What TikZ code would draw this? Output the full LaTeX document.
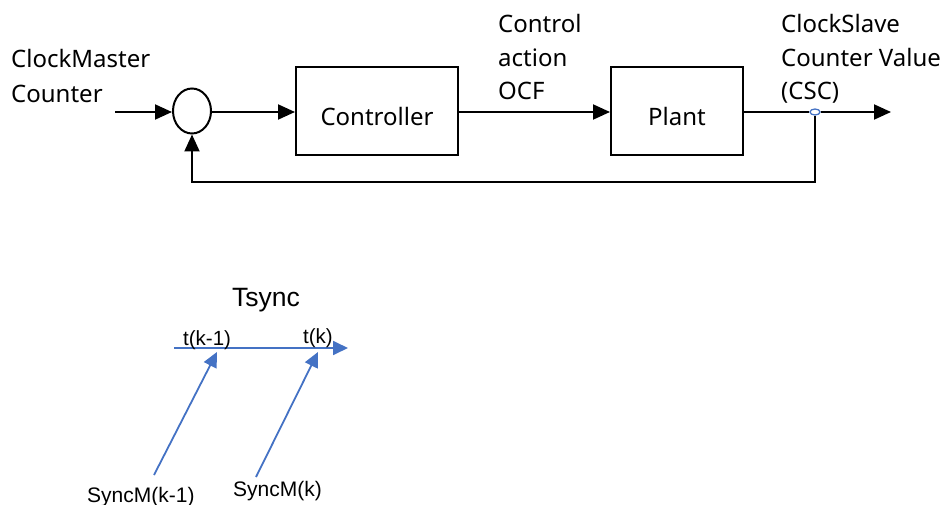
\documentclass[tikz,border=0pt]{standalone}
\usepackage{fontspec}
\setmainfont{Noto Sans}
\newfontfamily\arialf{Liberation Sans}
\usetikzlibrary{arrows.meta,shapes.geometric}
\definecolor{lblue}{HTML}{4472C4}
\begin{document}
\begin{tikzpicture}[x=1pt,y=-1pt,
  blk/.style={draw,line width=2pt,minimum height=88pt,inner sep=0pt,font=\fontsize{24}{28}\selectfont},
  sig/.style={line width=2pt,-{Triangle[length=17pt,width=15pt]}},
  bsig/.style={line width=1.8pt,lblue,-{Triangle[length=15pt,width=14pt]}},
  lbl/.style={inner sep=0pt,anchor=base west,font=\fontsize{24}{28}\selectfont},
  albl/.style={inner sep=0pt,anchor=base west,font=\arialf\fontsize{21}{24}\selectfont}]
\useasboundingbox (0,0) rectangle (949,505);
% top diagram
\node[draw,ellipse,line width=2pt,minimum width=38pt,minimum height=45pt,inner sep=0pt] (sum) at (192,111) {};
\node[blk,minimum width=162pt] (ctrl) at (377,111) {};
\node[blk,minimum width=132pt] (plant) at (677,111) {};
\node[inner sep=0pt,anchor=base,font=\fontsize{24}{28}\selectfont] (ctrlt) at (377,126) {Controller};
\node[inner sep=0pt,anchor=base,font=\fontsize{24}{28}\selectfont] (plantt) at (677,126) {Plant};
\coordinate (in) at (115,112);
\coordinate (out) at (891,112);
\node[draw=lblue,fill=white,ellipse,line width=1.3pt,minimum width=10pt,minimum height=6pt,inner sep=0pt] (tap) at (815,112) {};
\coordinate (fb1) at (815,182);
\coordinate (fb2) at (192,182);
\draw[sig] (in) -- (sum.west |- in);
\draw[sig] (sum.east |- in) -- (ctrl.west |- in);
\draw[sig] (ctrl.east |- in) -- (plant.west |- in);
\draw[line width=2pt] (plant.east |- in) -- (tap.west);
\draw[sig] (tap.east) -- (out);
\draw[sig] (tap.south) -- (fb1) -- (fb2) -- (sum.south);
% labels
\node[lbl] (cm1) at (11,68) {ClockMaster};
\node[lbl] (cm2) at (11,103) {Counter};
\node[lbl] (ca1) at (498,33) {Control};
\node[lbl] (ca2) at (498,67) {action};
\node[lbl] (ca3) at (498,100) {OCF};
\node[lbl] (cs1) at (781,33) {ClockSlave};
\node[lbl] (cs2) at (781,67) {Counter Value};
\node[lbl] (cs3) at (781,100) {(CSC)};
% bottom diagram
\node[albl,font=\arialf\fontsize{26.5}{30}\selectfont] (ts) at (232,306) {Tsync};
\coordinate (tl) at (174,348);
\coordinate (tr) at (348,348);
\draw[bsig] (tl) -- (tr);
\node[albl,font=\arialf\fontsize{20.5}{24}\selectfont] (tk1) at (183,345) {t(k-1)};
\node[albl,font=\arialf\fontsize{20.5}{24}\selectfont] (tk) at (303,343) {t(k)};
\coordinate (a1s) at (154,475);
\coordinate (a1e) at (217,352);
\coordinate (a2s) at (256,477);
\coordinate (a2e) at (318,352);
\draw[bsig] (a1s) -- (a1e);
\draw[bsig] (a2s) -- (a2e);
\node[albl] (s1) at (87,502) {SyncM(k-1)};
\node[albl] (s2) at (233,496) {SyncM(k)};
\end{tikzpicture}
\end{document}
